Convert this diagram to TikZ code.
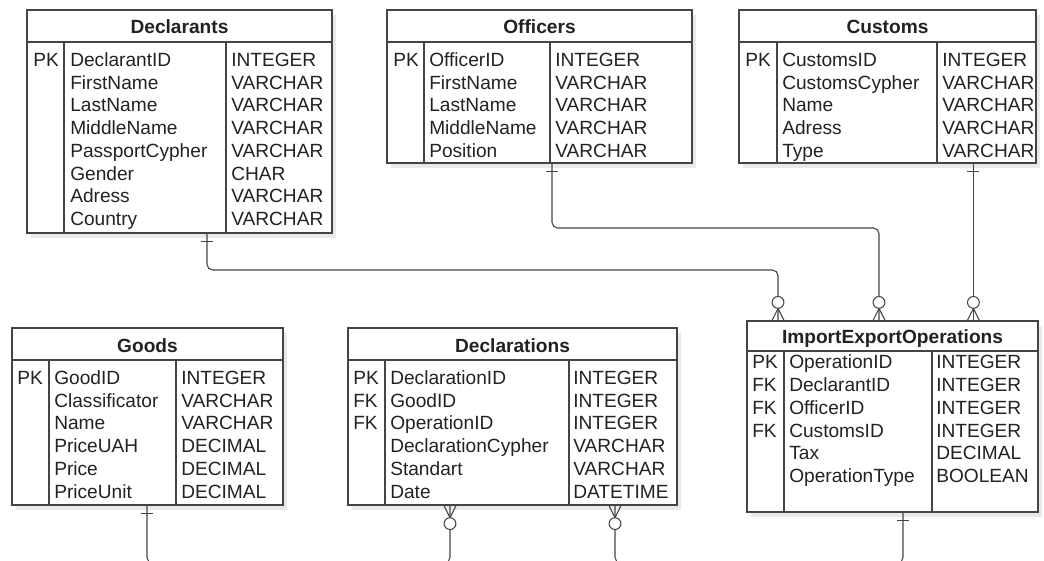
\documentclass[tikz,border=0pt]{standalone}
\usepackage{fontspec}
\setmainfont{Liberation Sans}
\usetikzlibrary{fit,shadows}

\definecolor{linec}{HTML}{444444}
\definecolor{textc}{HTML}{222222}

\begin{document}
\begin{tikzpicture}[x=0.025cm,y=-0.025cm,
  table/.style={draw=linec,line width=0.85pt,fill=white,inner sep=0pt,
    drop shadow={shadow xshift=3pt,shadow yshift=-3.5pt,fill=black!14,opacity=0.6}},
  rule/.style={draw=linec,line width=0.85pt},
  title/.style={anchor=base,inner sep=0pt,text=textc,font=\fontsize{13.6}{16}\selectfont\bfseries},
  col/.style={anchor=north west,align=left,inner sep=0pt,text=textc,font=\fontsize{13.6}{16.2}\selectfont},
  rel/.style={draw=linec,line width=0.75pt,rounded corners=4pt},
  one/.pic={\draw[linec,line width=0.75pt] (-6,8) -- (6,8);},
  many/.pic={\draw[linec,line width=0.75pt] (-6,0) -- (0,-12) -- (6,0);
    \draw[linec,line width=0.75pt,fill=white] (0,-18) circle [radius=4.2pt];}]

  \useasboundingbox (0,0) rectangle (1044,560);
  \clip (0,0) rectangle (1044,560);

  % Declarants
  \node[table,fit={(27,10) (332,233)}] (declarants) {};
  \draw[rule] (27,42) -- (332,42) (64,42) -- (64,233) (226,42) -- (226,233);
  \node[title] (declarants-title) at (179.5,33) {Declarants};
  \node[col] (declarants-keys) at (33,50) {\strut PK};
  \node[col] (declarants-names) at (70,50) {\strut DeclarantID\\FirstName\\LastName\\MiddleName\\PassportCypher\\Gender\\Adress\\Country};
  \node[col] (declarants-types) at (231,50) {\strut INTEGER\\VARCHAR\\VARCHAR\\VARCHAR\\VARCHAR\\CHAR\\VARCHAR\\VARCHAR};

  % Officers
  \node[table,fit={(387,10) (692,163)}] (officers) {};
  \draw[rule] (387,42) -- (692,42) (424,42) -- (424,163) (550,42) -- (550,163);
  \node[title] (officers-title) at (539.5,33) {Officers};
  \node[col] (officers-keys) at (393,50) {\strut PK};
  \node[col] (officers-names) at (429,50) {\strut OfficerID\\FirstName\\LastName\\MiddleName\\Position};
  \node[col] (officers-types) at (555,50) {\strut INTEGER\\VARCHAR\\VARCHAR\\VARCHAR\\VARCHAR};

  % Customs
  \node[table,fit={(739,10) (1036,163)}] (customs) {};
  \draw[rule] (739,42) -- (1036,42) (777,42) -- (777,163) (937,42) -- (937,163);
  \node[title] (customs-title) at (887.5,33) {Customs};
  \node[col] (customs-keys) at (745,50) {\strut PK};
  \node[col] (customs-names) at (782,50) {\strut CustomsID\\CustomsCypher\\Name\\Adress\\Type};
  \node[col] (customs-types) at (942,50) {\strut INTEGER\\VARCHAR\\VARCHAR\\VARCHAR\\VARCHAR};

  % Goods
  \node[table,fit={(12,328) (283,505)}] (goods) {};
  \draw[rule] (12,360) -- (283,360) (49,360) -- (49,505) (176,360) -- (176,505);
  \node[title] (goods-title) at (147.5,352) {Goods};
  \node[col] (goods-keys) at (17,368) {\strut PK};
  \node[col] (goods-names) at (54,368) {\strut GoodID\\Classificator\\Name\\PriceUAH\\Price\\PriceUnit};
  \node[col] (goods-types) at (181,368) {\strut INTEGER\\VARCHAR\\VARCHAR\\DECIMAL\\DECIMAL\\DECIMAL};

  % Declarations
  \node[table,fit={(348,328) (677,505)}] (declarations) {};
  \draw[rule] (348,360) -- (677,360) (385,360) -- (385,505) (569,360) -- (569,505);
  \node[title] (declarations-title) at (512.5,352) {Declarations};
  \node[col] (declarations-keys) at (353,368) {\strut PK\\FK\\FK};
  \node[col] (declarations-names) at (390,368) {\strut DeclarationID\\GoodID\\OperationID\\DeclarationCypher\\Standart\\Date};
  \node[col] (declarations-types) at (573,368) {\strut INTEGER\\INTEGER\\INTEGER\\VARCHAR\\VARCHAR\\DATETIME};

  % ImportExportOperations
  \node[table,fit={(747,321) (1038,512)}] (operations) {};
  \draw[rule] (747,351) -- (1038,351) (784,351) -- (784,512) (932,351) -- (932,512);
  \node[title] (operations-title) at (892.5,343) {ImportExportOperations};
  \node[col] (operations-keys) at (752,352.5) {\strut PK\\FK\\FK\\FK};
  \node[col] (operations-names) at (789,352.5) {\strut OperationID\\DeclarantID\\OfficerID\\CustomsID\\Tax\\OperationType};
  \node[col] (operations-types) at (936,352.5) {\strut INTEGER\\INTEGER\\INTEGER\\INTEGER\\DECIMAL\\BOOLEAN};

  % relations
  \draw[rel] (declarants.south -| 207,0) |- (778,270) -- (operations.north -| 778,0);
  \draw[rel] (officers.south -| 552,0) |- (879,228) -- (operations.north -| 879,0);
  \draw[rel] (customs.south -| 973.4,0) -- (operations.north -| 973.4,0);
  \draw[rel] (goods.south -| 147,0) |- (450,563) -- (declarations.south -| 450,0);
  \draw[rel] (operations.south -| 903,0) |- (615,563) -- (declarations.south -| 615,0);

  \path (declarants.south -| 207,0) pic {one}
        (officers.south -| 552,0) pic {one}
        (customs.south -| 973.4,0) pic {one}
        (goods.south -| 147,0) pic {one}
        (operations.south -| 903,0) pic {one};
  \path (operations.north -| 778,0) pic {many}
        (operations.north -| 879,0) pic {many}
        (operations.north -| 973.4,0) pic {many}
        (declarations.south -| 450,0) pic[yscale=-1] {many}
        (declarations.south -| 615,0) pic[yscale=-1] {many};
\end{tikzpicture}
\end{document}
